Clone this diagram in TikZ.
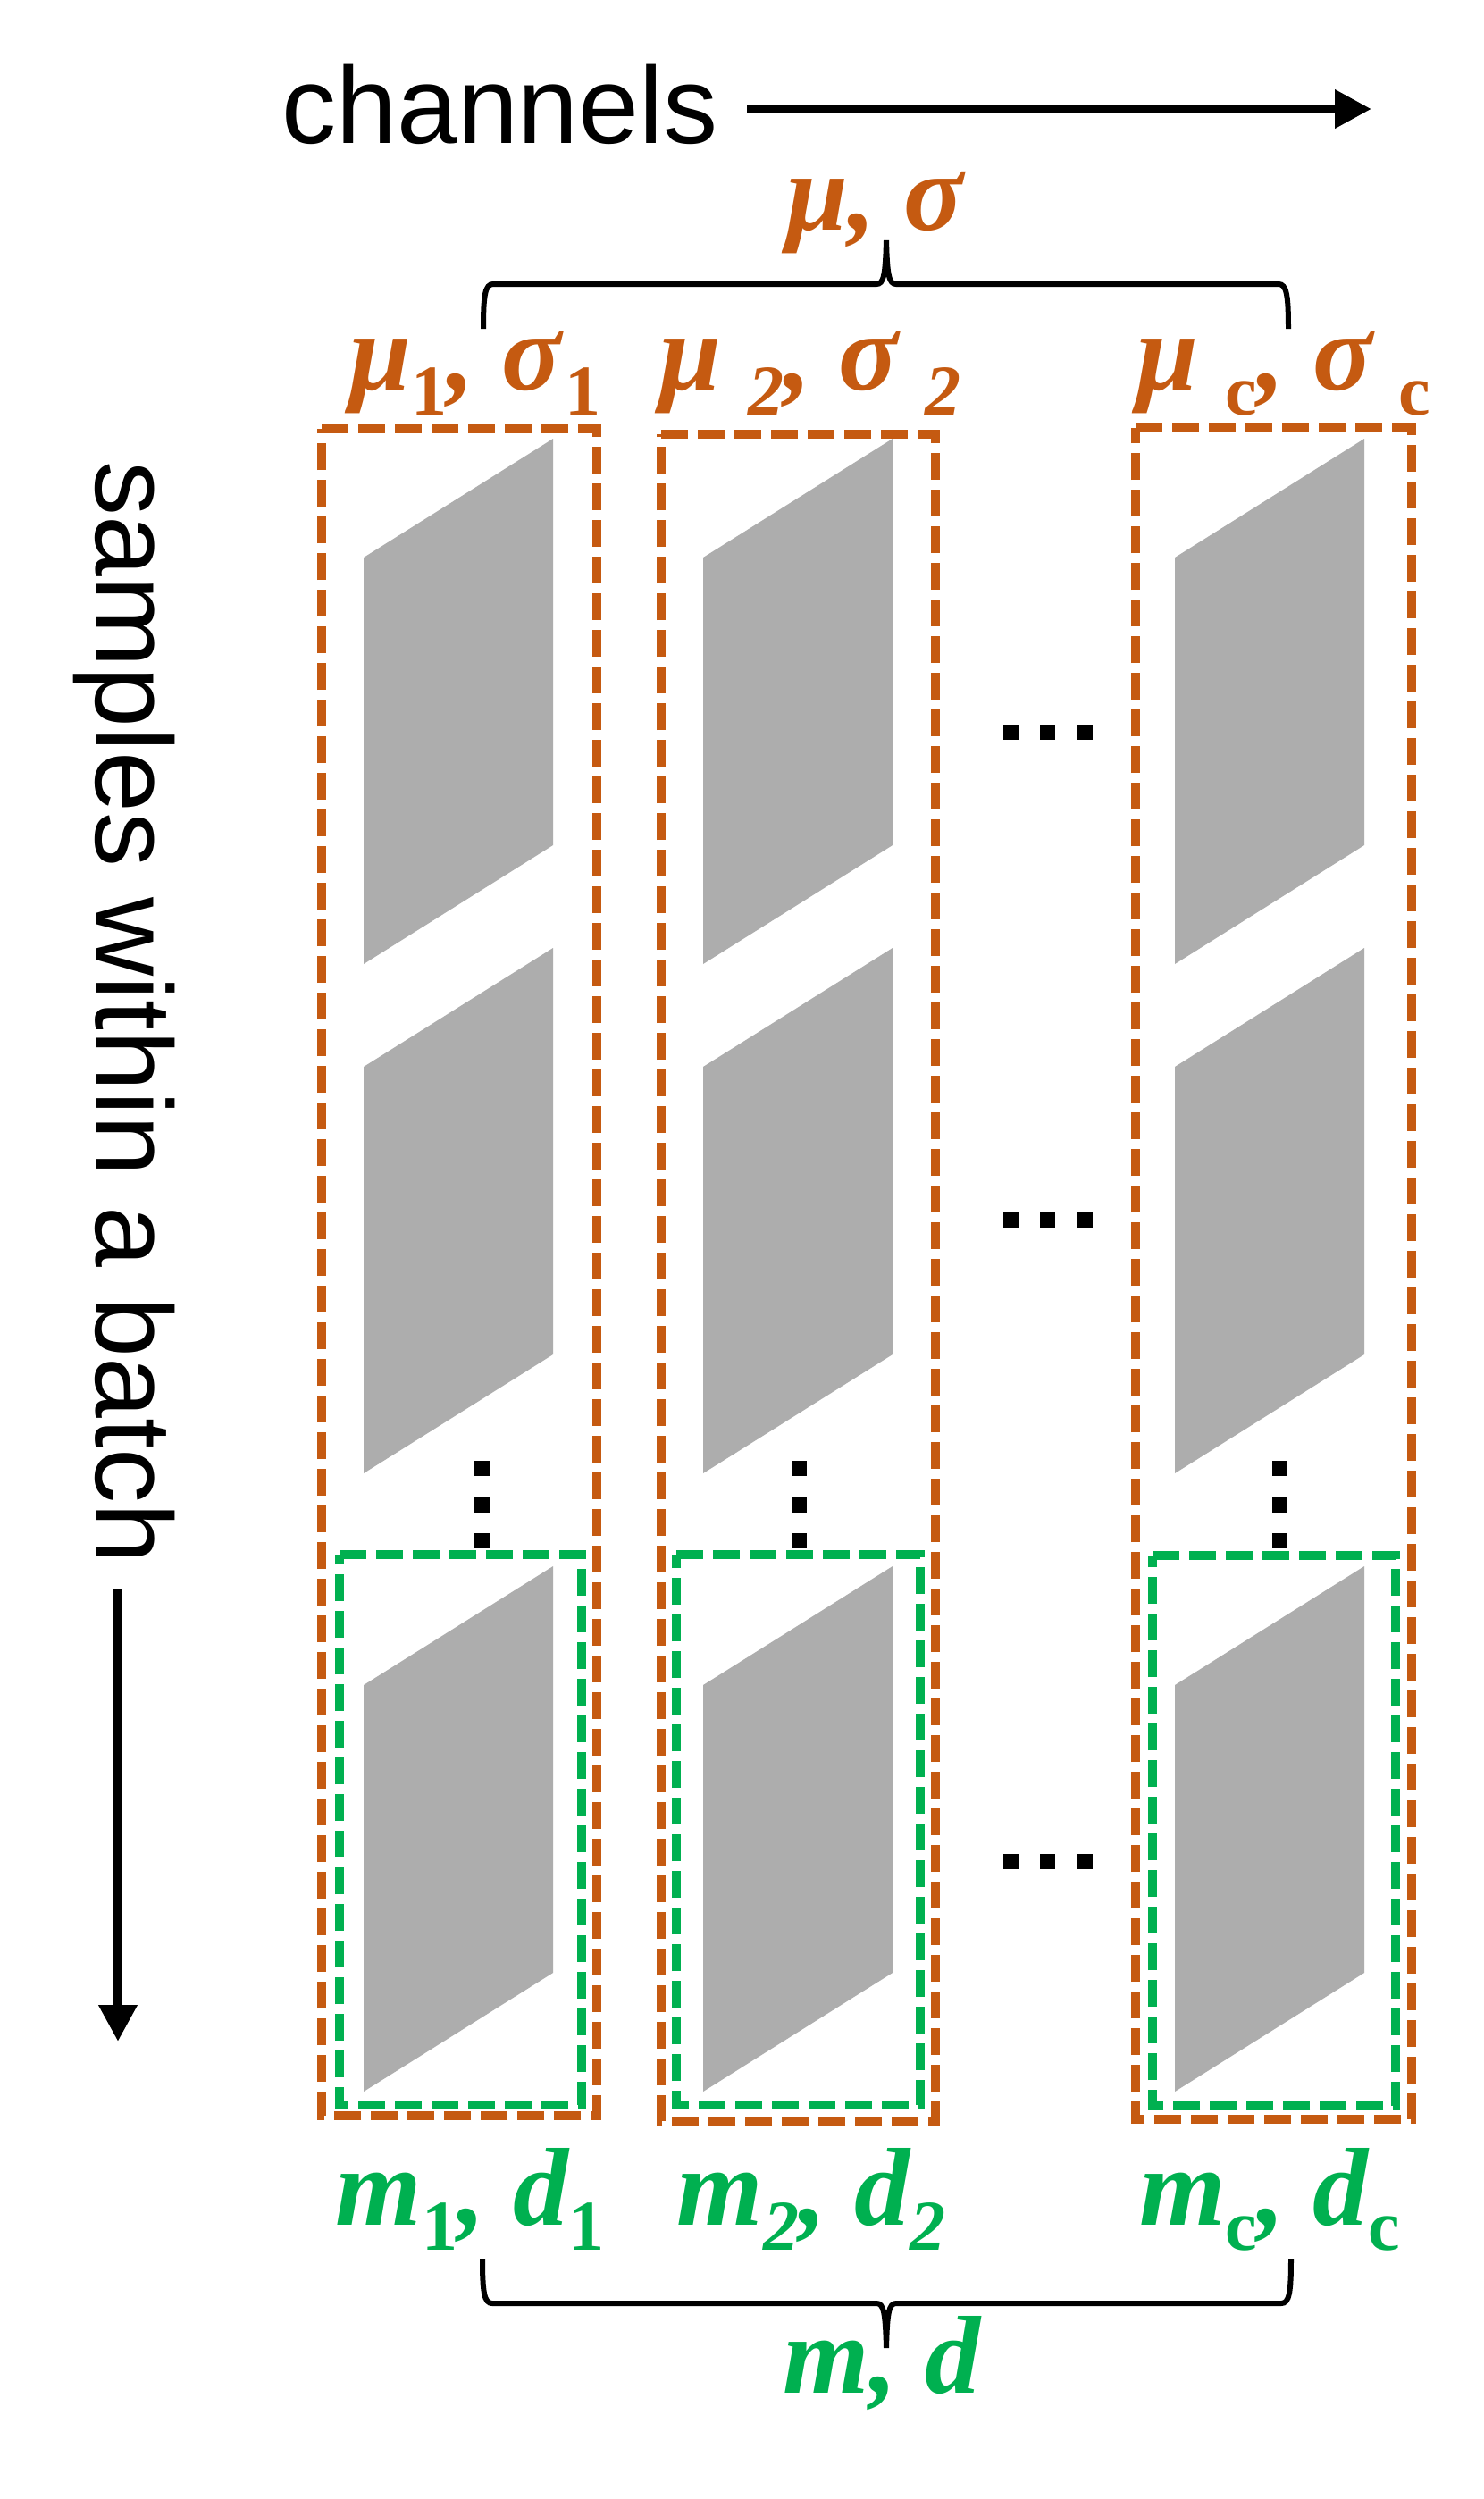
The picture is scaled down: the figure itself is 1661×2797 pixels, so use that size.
\documentclass[tikz,border=0pt]{standalone}
\usepackage{fontspec}
\setmainfont{Liberation Sans}
\newfontfamily\lbf{Liberation Serif}
\usetikzlibrary{arrows.meta}
\definecolor{orng}{RGB}{197,90,17}
\definecolor{grn}{RGB}{0,176,80}
\definecolor{gry}{RGB}{173,173,173}
\newcommand\mysub[2][0pt]{\hspace{#1}\raisebox{-14pt}{\fontsize{40pt}{40pt}\selectfont #2}}
\begin{document}
\begin{tikzpicture}[x=0.5pt,y=-0.5pt,
  obox/.style={draw=orng,line width=5pt,dash pattern=on 15pt off 5.5pt},
  gbox/.style={draw=grn,line width=5pt,dash pattern=on 15pt off 5.5pt},
  plate/.style={fill=gry},
  dotsq/.style={fill=black},
  brace/.style={draw=black,line width=3pt},
  axis/.style={draw=black,line width=5pt,-{Triangle[length=20.5pt,width=20.5pt]}},
  axlbl/.style={inner sep=0pt,font=\fontsize{61pt}{61pt}\selectfont},
  olbl/.style={inner sep=0pt,anchor=base,text=orng,font=\lbf\bfseries\itshape\fontsize{62pt}{62pt}\selectfont},
  glbl/.style={inner sep=0pt,anchor=base,text=grn,font=\lbf\bfseries\itshape\fontsize{62pt}{62pt}\selectfont}]
\useasboundingbox[fill=white] (0,0) rectangle (1661,2797);

% plates
\foreach \px in {407,787,1315}{
  \foreach \ry in {491,1061,1753}{
    \fill[plate] (\px,\ry+133) -- (\px+212,\ry) -- (\px+212,\ry+455) -- (\px,\ry+588) -- cycle;
  }
}

% orange boxes
\draw[obox] (360,480) -- (668,480) -- (668,2368) -- (360,2368) -- cycle;
\draw[obox] (740,486) -- (1047,486) -- (1047,2374) -- (740,2374) -- cycle;
\draw[obox] (1271,479) -- (1580,479) -- (1580,2372) -- (1271,2372) -- cycle;
% green boxes
\draw[gbox] (380,1740) -- (651,1740) -- (651,2356) -- (380,2356) -- cycle;
\draw[gbox] (757,1740) -- (1030,1740) -- (1030,2356) -- (757,2356) -- cycle;
\draw[gbox] (1290,1741) -- (1562,1741) -- (1562,2357) -- (1290,2357) -- cycle;

% dots
\foreach \dy in {819,1365,2083}{
  \foreach \dx in {1131,1172,1214}{
    \fill[dotsq] (\dx-8.5,\dy-8.5) rectangle ++(17,17);
  }
}
\foreach \dx in {539,894,1432}{
  \foreach \dy in {1643,1684,1724}{
    \fill[dotsq] (\dx-8.5,\dy-8.5) rectangle ++(17,17);
  }
}

% axes
\node[axlbl,anchor=base west] (ch) at (315,160) {channels};
\coordinate (chS) at (836,122);
\coordinate (chE) at (1535,122);
\draw[axis] (chS) -- (chE);
\node[axlbl,anchor=base west,rotate=-90] (smp) at (107,516) {samples within a batch};
\coordinate (bS) at (132,1778);
\coordinate (bE) at (132,2285);
\draw[axis] (bS) -- (bE);

% top labels
\node[olbl] (ms) at (979,257) {μ, σ};
\node[olbl] (ms1) at (532,436) {μ\mysub{\upshape 1}, σ\mysub[2pt]{\upshape 1}};
\node[olbl] (ms2) at (907,436) {μ\mysub[15pt]{2}, σ\mysub[15pt]{2}};
\node[olbl] (msc) at (1437,436) {μ\mysub[15pt]{\upshape c}, σ\mysub[15pt]{\upshape c}};

% top brace
\draw[brace] (541,368) .. controls (541,330) and (543,318) .. (552,318) -- (981,318)
  .. controls (989,318) and (991,308) .. (992,269)
  .. controls (993,308) and (995,318) .. (1003,318) -- (1431,318)
  .. controls (1440,318) and (1442,330) .. (1442,368);

% bottom labels
\node[glbl] (md1) at (526,2490) {m\mysub{\upshape 1}, d\mysub{\upshape 1}};
\node[glbl] (md2) at (908,2490) {m\mysub{2}, d\mysub{2}};
\node[glbl] (mdc) at (1421,2490) {m\mysub{\upshape c}, d\mysub{\upshape c}};
\node[glbl] (md) at (987,2678) {m, d};

% bottom brace
\draw[brace] (540,2528) .. controls (540,2566) and (542,2578) .. (551,2578) -- (981,2578)
  .. controls (989,2578) and (991,2588) .. (992,2628)
  .. controls (993,2588) and (995,2578) .. (1003,2578) -- (1434,2578)
  .. controls (1443,2578) and (1445,2566) .. (1445,2528);
\end{tikzpicture}
\end{document}
